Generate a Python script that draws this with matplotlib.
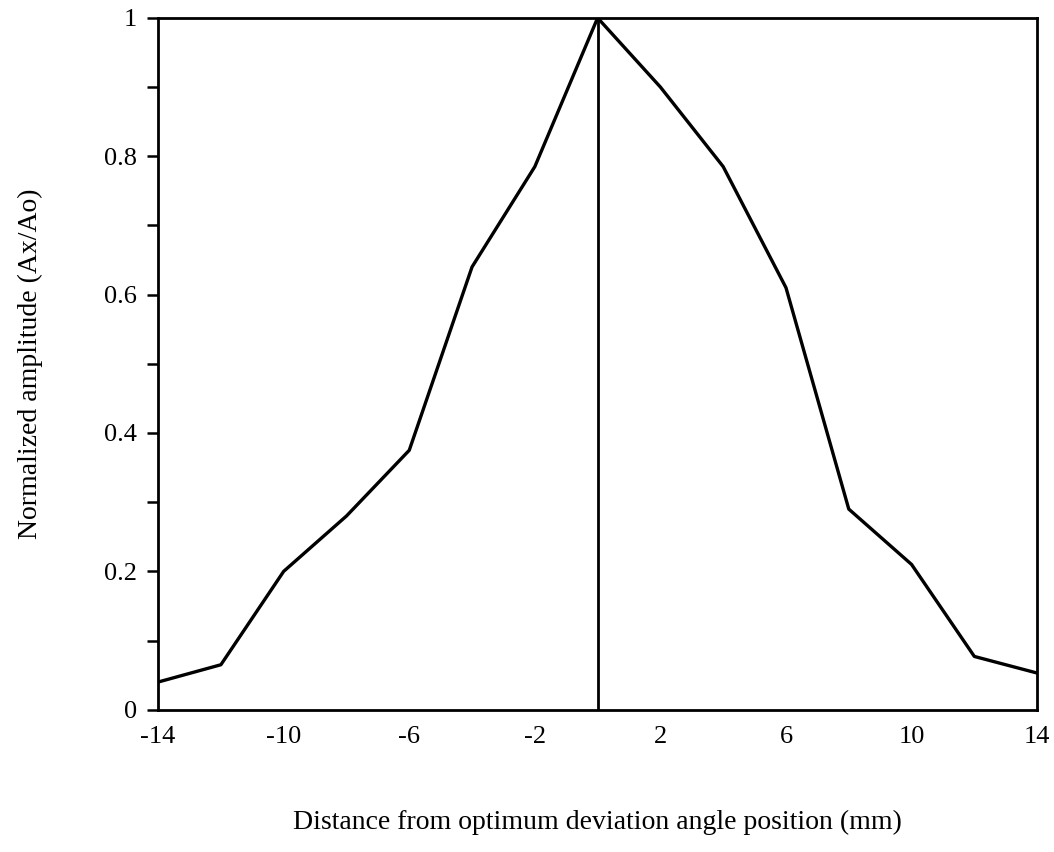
import matplotlib
matplotlib.use("Agg")
import matplotlib.pyplot as plt
import numpy as np

plt.rcParams['font.family'] = 'Liberation Serif'
plt.rcParams['axes.unicode_minus'] = False

# distance (mm) vs normalized amplitude
distance = [-14, -12, -10, -8, -6, -4, -2, 0, 2, 4, 6, 8, 10, 12, 14]
amplitude = [0.04, 0.065, 0.20, 0.28, 0.375, 0.64, 0.785, 1.0,
             0.90, 0.785, 0.61, 0.29, 0.21, 0.077, 0.053]

xticks = [-14, -10, -6, -2, 2, 6, 10, 14]
yticks = [0, 0.2, 0.4, 0.6, 0.8, 1]
ytick_labels = ['0', '0.2', '0.4', '0.6', '0.8', '1']

fig = plt.figure(figsize=(10.54, 8.52), dpi=100)
ax = fig.add_axes([0.150, 0.167, 0.834, 0.812])

ax.plot(distance, amplitude, color='black', linewidth=2.4)
ax.axvline(0, color='black', linewidth=2.0)

ax.set_xlim(-14, 14)
ax.set_ylim(0, 1)
ax.set_xticks(xticks)
ax.set_xticklabels([str(t) for t in xticks])
ax.set_yticks(yticks)
ax.set_yticklabels(ytick_labels)
ax.set_yticks(np.arange(0.1, 1.0, 0.2), minor=True)

ax.tick_params(axis='y', which='both', direction='out', length=8, width=1.8,
               labelsize=19, pad=7)
ax.tick_params(axis='x', which='both', length=0, labelsize=19, pad=12)

for s in ax.spines.values():
    s.set_linewidth(2.0)

ax.set_ylabel('Normalized amplitude (Ax/Ao)', fontsize=20, labelpad=44)
ax.set_xlabel('Distance from optimum deviation angle position (mm)',
              fontsize=20, labelpad=44)

fig.savefig('out.png', dpi=100)
